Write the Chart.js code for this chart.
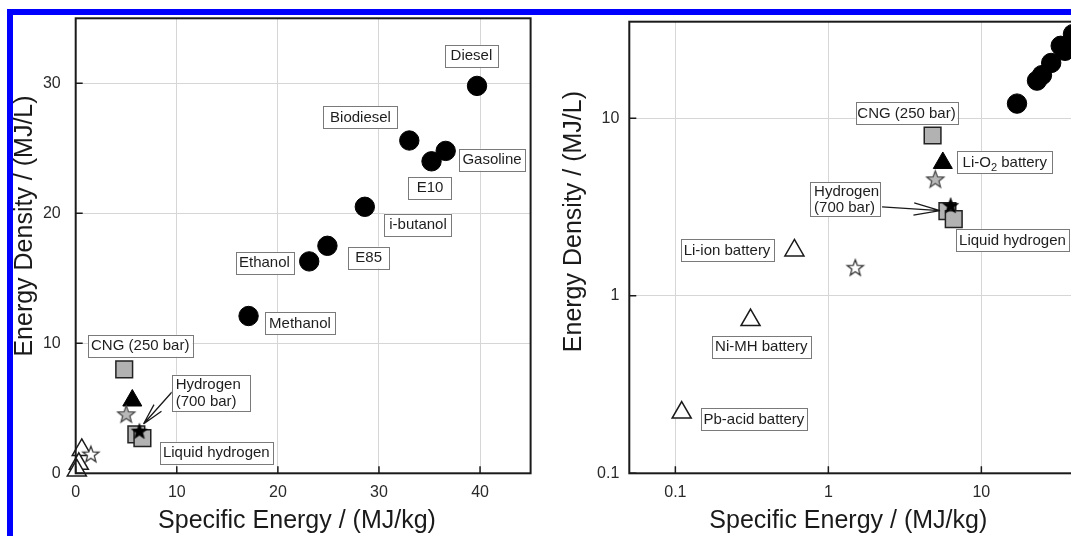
<!DOCTYPE html>
<html><head><meta charset="utf-8">
<script src="https://cdn.jsdelivr.net/npm/chart.js@4/dist/chart.umd.min.js"></script>
<style>
html,body{margin:0;padding:0;width:1071px;height:536px;overflow:hidden;background:#fff;}
#frame{position:absolute;left:7px;top:9px;width:1200px;height:700px;border:6px solid #0000ff;box-sizing:border-box;}
canvas{position:absolute;top:0;}
#c1{left:0;}
#c2{left:545px;}
</style></head><body>
<div id="frame"></div>
<canvas id="c1" width="540" height="536"></canvas>
<canvas id="c2" width="560" height="536"></canvas>
<script>
// ---------------- data ----------------
const FUEL_NAMES = ['Diesel', 'Biodiesel', 'Gasoline', 'E10', 'i-butanol', 'E85', 'Ethanol', 'Methanol'];
const FUEL_SE = [39.7, 33.0, 36.6, 35.2, 28.6, 24.9, 23.1, 17.1];
const FUEL_ED = [29.8, 25.6, 24.8, 24.0, 20.5, 17.5, 16.3, 12.1];

const TANK_NAMES = ['CNG (250 bar)', 'Hydrogen (700 bar)', 'Liquid hydrogen'];
const TANK_SE = [4.8, 6.0, 6.6];
const TANK_ED = [8.0, 3.0, 2.7];

const LIO2_SE = [5.6];
const LIO2_ED = [5.6];

const GREY_STAR_SE = [5.0];
const GREY_STAR_ED = [4.5];

const BLACK_STAR_SE = [6.3];
const BLACK_STAR_ED = [3.2];

const BATT_NAMES = ['Li-ion battery', 'Ni-MH battery', 'Pb-acid battery'];
const BATT_SE = [0.6, 0.31, 0.11];
const BATT_ED = [1.8, 0.73, 0.22];

const WHITE_STAR_SE = [1.5];
const WHITE_STAR_ED = [1.43];

const LIN_X_TICKS = [0, 10, 20, 30, 40];
const LIN_Y_TICKS = [0, 10, 20, 30];
const LOG_X_TICKS = [0.1, 1, 10];
const LOG_Y_TICKS = [0.1, 1, 10];

const X_TITLE = 'Specific Energy / (MJ/kg)';
const Y_TITLE = 'Energy Density / (MJ/L)';

// ---------------- helpers ----------------
const SERIES = {
  fuel: [FUEL_SE, FUEL_ED], tank: [TANK_SE, TANK_ED], lio2: [LIO2_SE, LIO2_ED],
  gstar: [GREY_STAR_SE, GREY_STAR_ED], bstar: [BLACK_STAR_SE, BLACK_STAR_ED],
  batt: [BATT_SE, BATT_ED], wstar: [WHITE_STAR_SE, WHITE_STAR_ED]
};
const pts = (xs, ys) => xs.map((x, i) => ({x: x, y: ys[i]}));

function makeStar(R, fill, stroke, lw) {
  const s = Math.ceil(2 * R + 2 * lw + 4);
  const c = document.createElement('canvas');
  c.width = s; c.height = s;
  const g = c.getContext('2d');
  const cx = s / 2, cy = s / 2;
  g.beginPath();
  for (let i = 0; i < 10; i++) {
    const a = -Math.PI / 2 + i * Math.PI / 5;
    const r = i % 2 ? R * 0.42 : R;
    g.lineTo(cx + r * Math.cos(a), cy + r * Math.sin(a));
  }
  g.closePath();
  g.fillStyle = fill; g.fill();
  if (lw) { g.lineWidth = lw; g.strokeStyle = stroke; g.stroke(); }
  return c;
}

function makeDatasets() {
  return [
    {label: 'Fuels', data: pts(FUEL_SE, FUEL_ED), pointStyle: 'circle', radius: 9.7,
     backgroundColor: '#000', borderColor: '#000', borderWidth: 1, order: 7},
    {label: 'Batteries', data: pts(BATT_SE, BATT_ED), pointStyle: 'triangle', radius: 11,
     backgroundColor: '#fff', borderColor: '#1a1a1a', borderWidth: 1.5, order: 6},
    {label: 'White star', data: pts(WHITE_STAR_SE, WHITE_STAR_ED), pointStyle: makeStar(8.5, '#fff', '#333', 1.3), radius: 9, order: 5},
    {label: 'Tanks', data: pts(TANK_SE, TANK_ED), pointStyle: 'rect', radius: 11.8,
     backgroundColor: '#b2b2b2', borderColor: '#222', borderWidth: 1.5, order: 4},
    {label: 'Li-O2', data: pts(LIO2_SE, LIO2_ED), pointStyle: 'triangle', radius: 11,
     backgroundColor: '#000', borderColor: '#000', borderWidth: 1, order: 3},
    {label: 'Grey star', data: pts(GREY_STAR_SE, GREY_STAR_ED), pointStyle: makeStar(9, '#b8b8b8', '#444', 1.2), radius: 9, order: 2},
    {label: 'Black star', data: pts(BLACK_STAR_SE, BLACK_STAR_ED), pointStyle: makeStar(8.5, '#000', '#000', 0.5), radius: 9, order: 1}
  ].map(d => Object.assign(d, {clip: false, showLine: false}));
}

// label / arrow layout (offsets in px from the referenced point)
const LEFT_LABELS = [
  {text: [FUEL_NAMES[0]], ref: ['fuel', 0], dx: -5.6, dy: -30.1, w: 52.7},
  {text: [FUEL_NAMES[1]], ref: ['fuel', 1], dx: -48.8, dy: -23.2, w: 74.4},
  {text: [FUEL_NAMES[2]], ref: ['fuel', 2], dx: 46.3, dy: 8.8, w: 66},
  {text: [FUEL_NAMES[3]], ref: ['fuel', 3], dx: -1.5, dy: 26.2, w: 43.4},
  {text: [FUEL_NAMES[4]], ref: ['fuel', 4], dx: 53.2, dy: 17.7, w: 67.4},
  {text: [FUEL_NAMES[5]], ref: ['fuel', 5], dx: 41.3, dy: 11.7, w: 41.3},
  {text: [FUEL_NAMES[6]], ref: ['fuel', 6], dx: -44.8, dy: 1.4, w: 57.8},
  {text: [FUEL_NAMES[7]], ref: ['fuel', 7], dx: 51.4, dy: 7.3, w: 69.5},
  {text: [TANK_NAMES[0]], ref: ['tank', 0], dx: 16, dy: -23.5, w: 104.7},
  {text: ['Hydrogen', '(700 bar)'], ref: ['bstar', 0], dx: 71.1, dy: -38.9, w: 77.6, h: 36, left: true},
  {text: [TANK_NAMES[2]], ref: ['tank', 2], dx: 73.9, dy: 14.6, w: 112.7}
];
const RIGHT_LABELS = [
  {text: [TANK_NAMES[0]], ref: ['tank', 0], dx: -26.1, dy: -22.5, w: 101.6},
  {parts: [['Li-O', false], ['2', true], [' battery', false]], ref: ['lio2', 0], dx: 62, dy: -0.5, w: 95},
  {text: ['Hydrogen', '(700 bar)'], ref: ['bstar', 0], dx: -105.6, dy: -6.9, w: 70, h: 34, left: true},
  {text: [TANK_NAMES[2]], ref: ['tank', 2], dx: 58.7, dy: 20.8, w: 112.6},
  {text: [BATT_NAMES[0]], ref: ['batt', 0], dx: -67.4, dy: 0, w: 92.5},
  {text: [BATT_NAMES[1]], ref: ['batt', 1], dx: 10.8, dy: 26.6, w: 99.2},
  {text: [BATT_NAMES[2]], ref: ['batt', 2], dx: 72.2, dy: 6.7, w: 105.8}
];
const LEFT_ARROWS = [{ref: ['bstar', 0], from: [32.6, -39.7], to: [4.1, -7.7], head: 22}];
const RIGHT_ARROWS = [{ref: ['bstar', 0], from: [-68.6, 0.8], to: [-10.6, 4.5], head: 27}];

const FONT = "'Liberation Sans', Arial, Helvetica, sans-serif";
Chart.defaults.font.family = FONT;
Chart.defaults.font.size = 16;

const decor = {
  id: 'decor',
  afterDatasetsDraw(chart, args, o) {
    const {ctx, chartArea: a} = chart;
    const xs = chart.scales.x, ys = chart.scales.y;
    ctx.save();
    // plot frame
    ctx.strokeStyle = '#1a1a1a';
    ctx.lineWidth = 2;
    ctx.strokeRect(a.left, a.top, a.right - a.left, a.bottom - a.top);
    // inward tick marks
    ctx.lineWidth = 1.5;
    ctx.beginPath();
    xs.ticks.forEach(t => { const p = xs.getPixelForValue(t.value); ctx.moveTo(p, a.bottom); ctx.lineTo(p, a.bottom - 7); });
    ys.ticks.forEach(t => { const p = ys.getPixelForValue(t.value); ctx.moveTo(a.left, p); ctx.lineTo(a.left + 7, p); });
    ctx.stroke();

    const anchor = ref => {
      const s = SERIES[ref[0]];
      return [xs.getPixelForValue(s[0][ref[1]]), ys.getPixelForValue(s[1][ref[1]])];
    };
    // arrows
    ctx.strokeStyle = '#1a1a1a';
    ctx.lineWidth = 1.3;
    (o.arrows || []).forEach(ar => {
      const [px, py] = anchor(ar.ref);
      const x1 = px + ar.from[0], y1 = py + ar.from[1];
      const x2 = px + ar.to[0], y2 = py + ar.to[1];
      const ang = Math.atan2(y2 - y1, x2 - x1);
      ctx.beginPath();
      ctx.moveTo(x1, y1); ctx.lineTo(x2, y2);
      [-0.23, 0.23].forEach(d => {
        ctx.moveTo(x2, y2);
        ctx.lineTo(x2 - ar.head * Math.cos(ang + d), y2 - ar.head * Math.sin(ang + d));
      });
      ctx.stroke();
    });
    // labels
    (o.labels || []).forEach(lb => {
      const [px, py] = anchor(lb.ref);
      const cx = px + lb.dx, cy = py + lb.dy;
      const h = lb.h || 22;
      const bx = cx - lb.w / 2, by = cy - h / 2;
      ctx.fillStyle = '#fff';
      ctx.fillRect(bx, by, lb.w, h);
      ctx.strokeStyle = '#7a7a7a';
      ctx.lineWidth = 1;
      ctx.strokeRect(Math.round(bx) + 0.5, Math.round(by) + 0.5, Math.round(lb.w), Math.round(h));
      ctx.fillStyle = '#1e1e1e';
      ctx.textBaseline = 'middle';
      if (lb.parts) {
        let tw = 0;
        lb.parts.forEach(p => { ctx.font = (p[1] ? '11px ' : '15px ') + FONT; tw += ctx.measureText(p[0]).width; });
        let x = cx - tw / 2;
        ctx.textAlign = 'left';
        lb.parts.forEach(p => {
          ctx.font = (p[1] ? '11px ' : '15px ') + FONT;
          ctx.fillText(p[0], x, cy + 0.5 + (p[1] ? 5 : 0));
          x += ctx.measureText(p[0]).width;
        });
      } else {
        ctx.font = '15px ' + FONT;
        const n = lb.text.length;
        lb.text.forEach((t, i) => {
          const ty = cy + 0.5 + (i - (n - 1) / 2) * 16.5;
          if (lb.left) { ctx.textAlign = 'left'; ctx.fillText(t, bx + 4, ty); }
          else { ctx.textAlign = 'center'; ctx.fillText(t, cx, ty); }
        });
      }
    });
    // axis titles
    const tt = o.titles;
    ctx.fillStyle = '#1a1a1a';
    ctx.font = '25px ' + FONT;
    ctx.textAlign = 'center';
    ctx.textBaseline = 'alphabetic';
    ctx.fillText(X_TITLE, tt.xCx, tt.xBase);
    ctx.translate(tt.yBase, tt.yCy);
    ctx.rotate(-Math.PI / 2);
    ctx.fillText(Y_TITLE, 0, 0);
    ctx.restore();
  }
};

function zeroPad(s) { s.paddingTop = 0; s.paddingBottom = 0; s.paddingLeft = 0; s.paddingRight = 0; }

function axis(type, min, max, tickVals, fit, pad) {
  return {
    type: type, min: min, max: max,
    afterBuildTicks: s => { s.ticks = tickVals.map(v => ({value: v})); },
    afterFit: s => { fit(s); zeroPad(s); },
    grid: {color: '#d6d6d6', lineWidth: 1, drawTicks: false},
    border: {display: false},
    title: {display: false},
    ticks: {padding: pad, color: '#2a2a2a', autoSkip: false, maxRotation: 0, font: {size: 16},
            callback: v => String(v)}
  };
}

function makeChart(id, xType, yType, xr, yr, xt, yt, yWidth, yPad, padding, labels, arrows, titles) {
  return new Chart(document.getElementById(id), {
    type: 'scatter',
    data: {datasets: makeDatasets()},
    options: {
      responsive: false, animation: false, devicePixelRatio: 1, events: [],
      layout: {padding: padding, autoPadding: false},
      plugins: {legend: {display: false}, tooltip: {enabled: false},
                decor: {labels: labels, arrows: arrows, titles: titles}},
      scales: {
        x: axis(xType, xr[0], xr[1], xt, s => { s.height = 62.7; }, 10),
        y: axis(yType, yr[0], yr[1], yt, s => { s.width = yWidth; }, yPad)
      }
    },
    plugins: [decor]
  });
}

makeChart('c1', 'linear', 'linear', [0, 45], [0, 35], LIN_X_TICKS, LIN_Y_TICKS, 75.7, 15,
  {left: 0, top: 18.3, right: 9.4, bottom: 0}, LEFT_LABELS, LEFT_ARROWS,
  {xCx: 297, xBase: 528, yBase: 32, yCy: 226});

makeChart('c2', 'logarithmic', 'logarithmic', [0.05, 50], [0.1, 35], LOG_X_TICKS, LOG_Y_TICKS, 84.3, 10,
  {left: 0, top: 21.7, right: 16.7, bottom: 0}, RIGHT_LABELS, RIGHT_ARROWS,
  {xCx: 303.3, xBase: 528, yBase: 36, yCy: 221.6});
</script>
</body></html>
